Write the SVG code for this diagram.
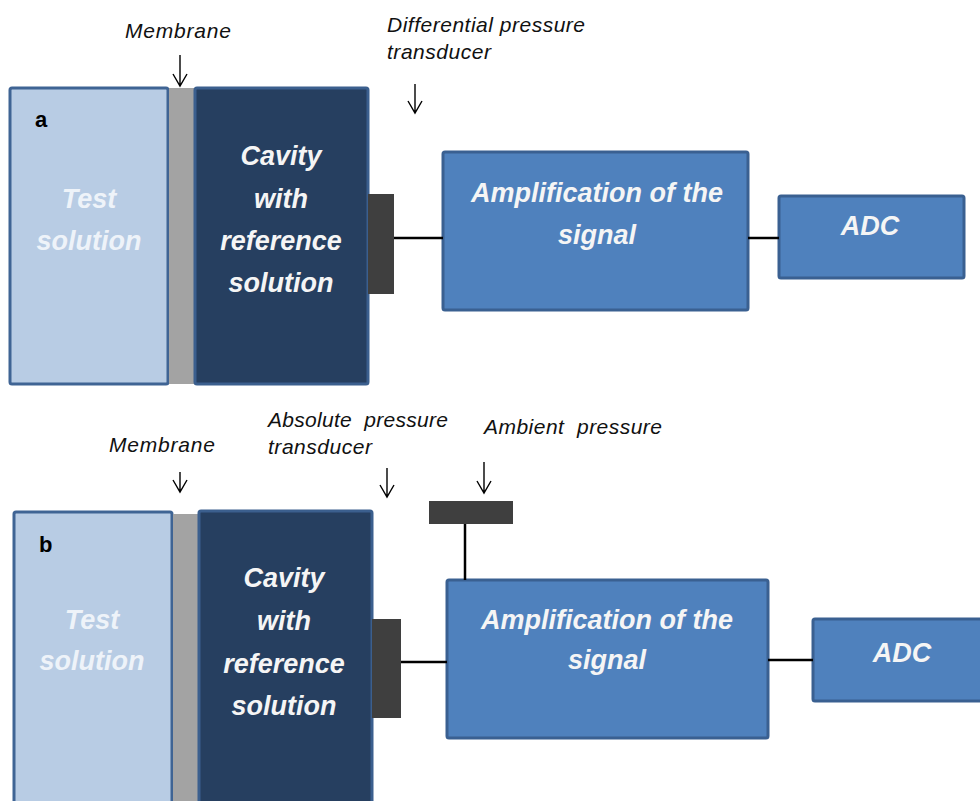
<svg xmlns="http://www.w3.org/2000/svg" width="980" height="801" viewBox="0 0 980 801">
  <style>
    .test { fill: #b8cce4; stroke: #3f6494; stroke-width: 3; }
    .memb { fill: #a3a3a3; stroke: none; }
    .cav { fill: #263f60; stroke: #3b5f8e; stroke-width: 3; }
    .amp { fill: #4f81bd; stroke: #3a6091; stroke-width: 3; }
    .xdcr { fill: #3f3f3f; stroke: none; }
    .wire { stroke: #000; stroke-width: 2.5; fill: none; }
    .arr { stroke: #000; stroke-width: 1.4; fill: none; }
    .lbl { font-family: "Liberation Sans", Arial, sans-serif; font-style: italic; font-size: 21px; fill: #111; }
    .big { font-family: "Liberation Sans", Arial, sans-serif; font-style: italic; font-weight: bold; font-size: 27px; fill: #f5f5f5; text-anchor: middle; }
    .light { fill: #eef3f9; }
    .tag { font-family: "Liberation Sans", Arial, sans-serif; font-weight: bold; font-size: 22px; fill: #000; }
  </style>
  <rect width="980" height="801" fill="#ffffff"/>

  <!-- Panel a -->
  <g id="a-test">
    <rect class="test" x="10" y="88" width="158" height="296" rx="2"/>
    <text class="tag" x="35" y="127">a</text>
    <text class="big light" x="89" y="208">Test</text>
    <text class="big light" x="89" y="250">solution</text>
  </g>
  <g id="a-membrane">
    <rect class="memb" x="169" y="88" width="25" height="296"/>
  </g>
  <g id="a-cavity">
    <rect class="cav" x="195" y="88" width="173" height="296" rx="2"/>
    <text class="big" x="281" y="165">Cavity</text>
    <text class="big" x="281" y="208">with</text>
    <text class="big" x="281" y="250">reference</text>
    <text class="big" x="281" y="292">solution</text>
  </g>
  <g id="a-transducer">
    <rect class="xdcr" x="368" y="194" width="26" height="100"/>
  </g>
  <g id="a-amp">
    <rect class="amp" x="443" y="152" width="305" height="158" rx="2"/>
    <text class="big" x="597" y="202">Amplification of the</text>
    <text class="big" x="597" y="244">signal</text>
  </g>
  <g id="a-adc">
    <rect class="amp" x="779" y="196" width="185" height="82" rx="2"/>
    <text class="big" x="870" y="235">ADC</text>
  </g>
  <g id="a-labels">
    <text class="lbl" x="125" y="38" textLength="106">Membrane</text>
    <text class="lbl" x="387" y="32" textLength="198">Differential pressure</text>
    <text class="lbl" x="387" y="59" textLength="104">transducer</text>
  </g>

  <!-- Panel b -->
  <g id="b-test">
    <rect class="test" x="14" y="512" width="158" height="300" rx="2"/>
    <text class="tag" x="39" y="552">b</text>
    <text class="big light" x="92" y="629">Test</text>
    <text class="big light" x="92" y="670">solution</text>
  </g>
  <g id="b-membrane">
    <rect class="memb" x="173" y="514" width="25" height="290"/>
  </g>
  <g id="b-cavity">
    <rect class="cav" x="199" y="511" width="173" height="300" rx="2"/>
    <text class="big" x="284" y="587">Cavity</text>
    <text class="big" x="284" y="630">with</text>
    <text class="big" x="284" y="673">reference</text>
    <text class="big" x="284" y="715">solution</text>
  </g>
  <g id="b-transducer">
    <rect class="xdcr" x="372" y="619" width="29" height="99"/>
  </g>
  <g id="b-ambient-sensor">
    <rect class="xdcr" x="429" y="501" width="84" height="23"/>
  </g>
  <g id="b-amp">
    <rect class="amp" x="447" y="580" width="321" height="158" rx="2"/>
    <text class="big" x="607" y="629">Amplification of the</text>
    <text class="big" x="607" y="669">signal</text>
  </g>
  <g id="b-adc">
    <rect class="amp" x="813" y="619" width="185" height="82" rx="2"/>
    <text class="big" x="902" y="662">ADC</text>
  </g>
  <g id="b-labels">
    <text class="lbl" x="109" y="452" textLength="106">Membrane</text>
    <text class="lbl" x="268" y="427" textLength="180" xml:space="preserve">Absolute  pressure</text>
    <text class="lbl" x="268" y="454" textLength="104">transducer</text>
    <text class="lbl" x="484" y="434" textLength="178" xml:space="preserve">Ambient  pressure</text>
  </g>

  <!-- Connectors -->
  <g id="connectors">
    <line class="wire" x1="394" y1="238" x2="443" y2="238"/>
    <line class="wire" x1="748" y1="238" x2="779" y2="238"/>
    <line class="wire" x1="401" y1="662" x2="447" y2="662"/>
    <line class="wire" x1="768" y1="660" x2="813" y2="660"/>
    <line class="wire" x1="465" y1="524" x2="465" y2="580"/>
    <path class="arr" d="M180 55 V86 M173 74 L180 86 L187 74"/>
    <path class="arr" d="M415 84 V113 M408 101 L415 113 L422 101"/>
    <path class="arr" d="M180 472 V492 M173 480 L180 492 L187 480"/>
    <path class="arr" d="M387 468 V497 M380 485 L387 497 L394 485"/>
    <path class="arr" d="M484 462 V493 M477 481 L484 493 L491 481"/>
  </g>
</svg>
